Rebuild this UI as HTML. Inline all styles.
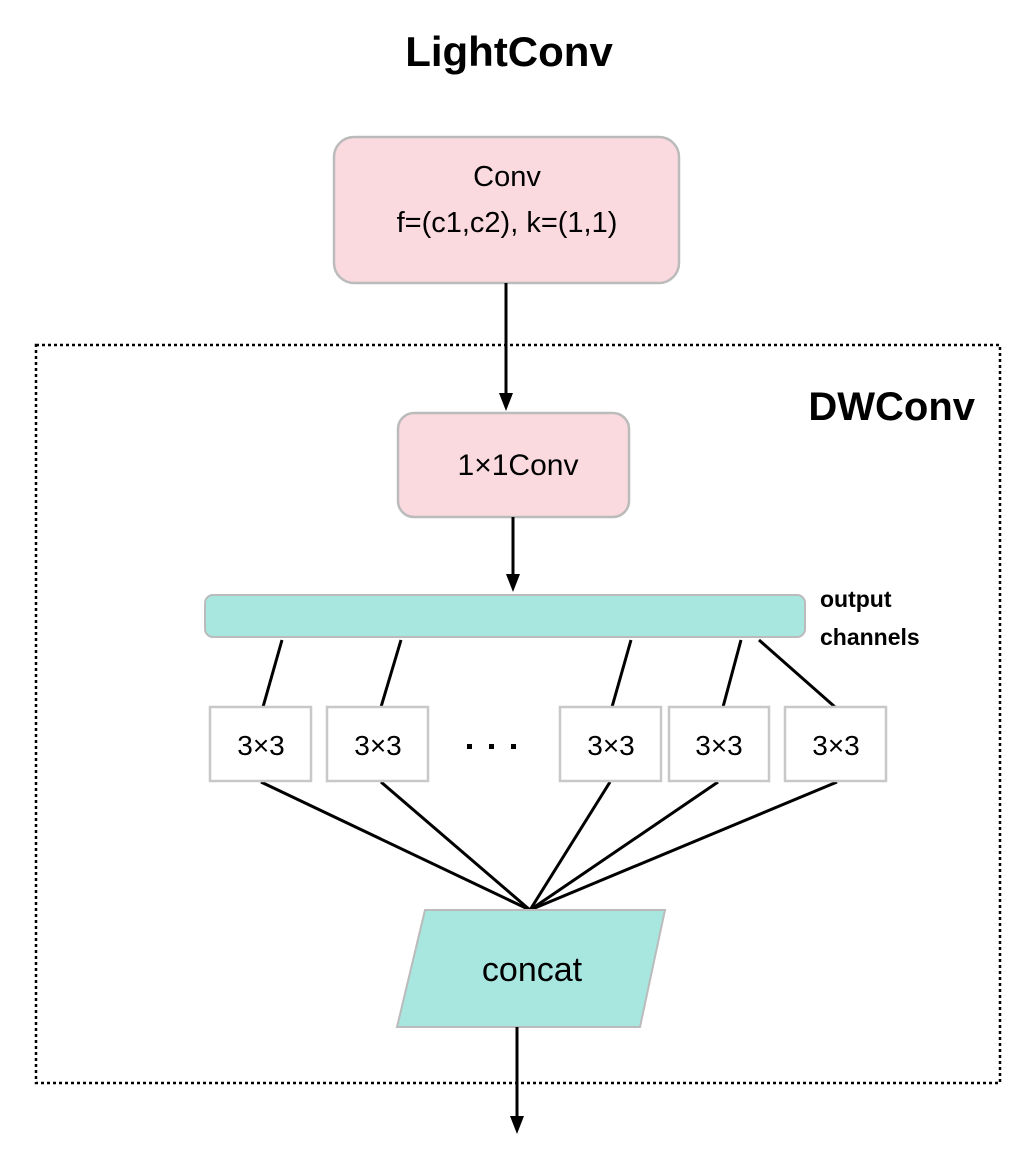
<!DOCTYPE html>
<html><head><style>
html,body{margin:0;padding:0;background:#fff;}
svg{display:block;font-family:"Liberation Sans",Arial,sans-serif;}
</style></head><body>
<svg width="1019" height="1168" viewBox="0 0 1019 1168" xmlns="http://www.w3.org/2000/svg">
<text x="509" y="66" text-anchor="middle" font-size="42" font-weight="bold">LightConv</text>
<rect x="36" y="345" width="964" height="738" fill="none" stroke="#000" stroke-width="2.5" stroke-dasharray="3,3"/>
<text x="975" y="420" text-anchor="end" font-size="40" font-weight="bold">DWConv</text>
<rect x="334" y="137" width="345" height="146" rx="20" fill="#fadadf" stroke="#bbb" stroke-width="2.5"/>
<text x="507" y="186" text-anchor="middle" font-size="29">Conv</text>
<text x="507" y="232" text-anchor="middle" font-size="29">f=(c1,c2), k=(1,1)</text>
<line x1="506" y1="283" x2="506" y2="395" stroke="#000" stroke-width="3"/>
<polygon points="499,393 513,393 506,411" fill="#000"/>
<rect x="398" y="413" width="231" height="104" rx="16" fill="#fadadf" stroke="#bbb" stroke-width="2.5"/>
<text x="518" y="475" text-anchor="middle" font-size="30">1×1Conv</text>
<line x1="513" y1="517" x2="513" y2="576" stroke="#000" stroke-width="3"/>
<polygon points="506,574 520,574 513,592" fill="#000"/>
<rect x="205" y="595" width="600" height="42" rx="8" fill="#a8e6e0" stroke="#bbb" stroke-width="2"/>
<text x="820" y="607" font-size="23" font-weight="bold">output</text>
<text x="820" y="645" font-size="23" font-weight="bold">channels</text>
<g stroke="#000" stroke-width="3">
<line x1="282" y1="640" x2="263" y2="707"/>
<line x1="401" y1="640" x2="381" y2="707"/>
<line x1="631" y1="640" x2="612" y2="707"/>
<line x1="741" y1="640" x2="723" y2="707"/>
<line x1="759" y1="640" x2="835" y2="707"/>
<line x1="261" y1="782" x2="530" y2="910"/>
<line x1="381" y1="782" x2="530" y2="910"/>
<line x1="610" y1="782" x2="530" y2="910"/>
<line x1="718" y1="782" x2="530" y2="910"/>
<line x1="837" y1="782" x2="530" y2="910"/>
</g>
<g fill="#fff" stroke="#c8c8c8" stroke-width="2.5">
<rect x="210" y="707" width="101" height="74"/>
<rect x="327" y="707" width="101" height="74"/>
<rect x="560" y="707" width="101" height="74"/>
<rect x="669" y="707" width="100" height="74"/>
<rect x="785" y="707" width="101" height="74"/>
</g>
<g font-size="28" text-anchor="middle">
<text x="261" y="755">3×3</text>
<text x="378" y="755">3×3</text>
<text x="611" y="755">3×3</text>
<text x="719" y="755">3×3</text>
<text x="836" y="755">3×3</text>
</g>
<g fill="#000"><rect x="467" y="744" width="5" height="5"/><rect x="489" y="744" width="5" height="5"/><rect x="511" y="744" width="5" height="5"/></g>
<polygon points="425,910 665,910 640,1027 397,1027" fill="#a8e6e0" stroke="#bbb" stroke-width="2"/>
<text x="532" y="981" text-anchor="middle" font-size="34">concat</text>
<line x1="517" y1="1027" x2="517" y2="1118" stroke="#000" stroke-width="3"/>
<polygon points="510,1116 524,1116 517,1134" fill="#000"/>
</svg>
</body></html>
